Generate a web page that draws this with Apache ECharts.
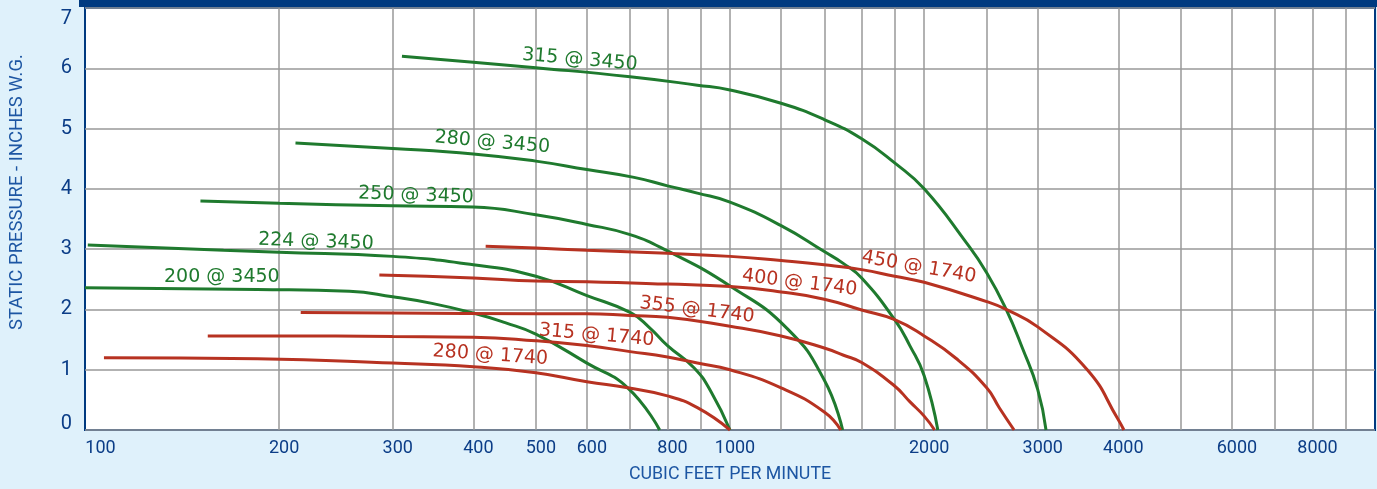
<!DOCTYPE html>
<html>
<head>
<meta charset="utf-8">
<script src="https://cdn.jsdelivr.net/npm/echarts@6.0.0/dist/echarts.min.js"></script>
<style>
html,body{margin:0;padding:0;background:#dff1fb;}
#chart{width:1377px;height:489px;}
</style>
</head>
<body>
<div id="chart"></div>
<script>
// ---- data (CFM, static pressure in. W.G.) ----
const fan315_3450 = [[310,6.2],[400,6.1],[500,6.01],[700,5.86],[890,5.72],[1000,5.64],[1200,5.42],[1400,5.15],[1600,4.83],[1800,4.43],[2000,4.0],[2320,3.12],[2500,2.61],[2680,2.0],[2840,1.36],[3000,0.67],[3090,0]];
const fan280_3450 = [[212,4.76],[300,4.67],[400,4.58],[500,4.46],[600,4.32],[710,4.19],[800,4.05],[890,3.93],[1000,3.78],[1200,3.39],[1400,2.96],[1500,2.76],[1600,2.52],[1800,1.83],[1900,1.40],[2000,0.90],[2100,0]];
const fan250_3450 = [[151,3.80],[200,3.76],[300,3.72],[400,3.70],[500,3.57],[600,3.41],[700,3.24],[800,2.97],[1000,2.39],[1230,1.67],[1400,0.83],[1495,0]];
const fan224_3450 = [[101,3.07],[164,2.98],[200,2.95],[300,2.88],[400,2.74],[500,2.55],[600,2.23],[700,1.95],[750,1.70],[800,1.40],[880,1.03],[935,0.63],[1000,0]];
const fan200_3450 = [[100,2.36],[185,2.33],[257,2.30],[300,2.21],[345,2.10],[400,1.94],[448,1.78],[500,1.59],[600,1.11],[694,0.70],[778,0]];
const fan450_1740 = [[418,3.05],[500,3.02],[600,2.98],[800,2.93],[1000,2.88],[1200,2.81],[1400,2.74],[1600,2.66],[1800,2.55],[2000,2.45],[2500,2.13],[2680,2.0],[3000,1.71],[3580,1.0],[4000,0.17],[4080,0]];
const fan400_1740 = [[286,2.57],[400,2.52],[500,2.47],[600,2.46],[800,2.42],[1000,2.38],[1200,2.29],[1400,2.17],[1600,1.99],[1800,1.83],[2000,1.56],[2240,1.19],[2500,0.70],[2615,0.37],[2757,0]];
const fan355_1740 = [[216,1.95],[300,1.94],[500,1.93],[600,1.93],[700,1.90],[800,1.87],[1000,1.72],[1200,1.56],[1400,1.36],[1500,1.24],[1600,1.12],[1800,0.73],[1900,0.47],[2000,0.23],[2076,0]];
const fan315_1740 = [[155,1.56],[200,1.56],[300,1.55],[400,1.54],[500,1.48],[600,1.40],[700,1.30],[800,1.21],[890,1.11],[1000,1.0],[1200,0.70],[1400,0.30],[1485,0]];
const fan280_1740 = [[107,1.20],[185,1.18],[300,1.11],[400,1.05],[500,0.95],[600,0.80],[694,0.70],[797,0.57],[890,0.37],[1000,0]];

const curveNames = ['315 @ 3450','280 @ 3450','250 @ 3450','224 @ 3450','200 @ 3450','450 @ 1740','400 @ 1740','355 @ 1740','315 @ 1740','280 @ 1740'];
const curveData = [fan315_3450,fan280_3450,fan250_3450,fan224_3450,fan200_3450,fan450_1740,fan400_1740,fan355_1740,fan315_1740,fan280_1740];
// where each curve's name label sits (CFM, in. W.G.)
const labelAnchors = [[585,6.14],[428,4.77],[326,3.89],[228,3.12],[163,2.54],[1963,2.70],[1282,2.44],[889,1.99],[621,1.57],[425,1.24]];

const xGridValues = [200,300,400,500,600,700,800,900,1000,1200,1400,1600,1800,2000,2500,3000,4000,5000,6000,7000,8000,9000];
const xTickLabels = [100,200,300,400,500,600,800,1000,2000,3000,4000,6000,8000];
const yTickLabels = [0,1,2,3,4,5,6,7];

// ---- styles ----
const GREEN = '#1f7a2e', RED = '#b73221', NAVY = '#0b3d87', TITLE = '#1d56a3';
const labelRotate = [-5,-5,-2,-2,0,-10,-7,-7,-5,-4];
const FONT = 'Roboto, "DejaVu Sans", sans-serif';
const LFONT = '"DejaVu Sans", Roboto, sans-serif';

const chart = echarts.init(document.getElementById('chart'));

const series = curveData.map((d, i) => {
  const color = curveNames[i].indexOf('3450') >= 0 ? GREEN : RED;
  return {
    name: curveNames[i],
    type: 'line',
    data: d,
    showSymbol: false,
    smooth: 0.5,
    clip: false,
    lineStyle: {color: color, width: 3},
    itemStyle: {color: color},
    z: 3,
    markPoint: {
      silent: true,
      symbol: 'rect',
      symbolSize: 1,
      itemStyle: {color: 'transparent'},
      label: {
        show: true,
        position: 'inside',
        color: color,
        fontFamily: LFONT,
        fontSize: 19,
        rotate: labelRotate[i],
        formatter: p => p.name
      },
      data: [{name: curveNames[i], coord: labelAnchors[i]}]
    }
  };
});

chart.setOption({
  animation: false,
  backgroundColor: '#dff1fb',
  grid: {
    left: 80, right: 2, top: 8, bottom: 57,
    show: true, backgroundColor: '#ffffff',
    borderColor: '#003a80', borderWidth: 2
  },
  graphic: [{
    type: 'rect', left: 79, top: 0, z: 10,
    shape: {width: 1298, height: 7},
    style: {fill: '#003a80'}
  }],
  xAxis: {
    type: 'log', logBase: 10, min: 100, max: 10000,
    name: 'CUBIC FEET PER MINUTE',
    nameLocation: 'middle', nameGap: 36,
    nameTextStyle: {color: TITLE, fontFamily: FONT, fontSize: 17.8},
    axisLine: {show: false},
    axisTick: {show: false, customValues: xGridValues},
    splitLine: {show: true, lineStyle: {color: '#999999', width: 1.5}},
    minorSplitLine: {show: false},
    axisLabel: {
      customValues: xTickLabels,
      color: NAVY, fontFamily: FONT, fontSize: 18, margin: 9,
      formatter: v => {
        const s = String(Math.round(v));
        return Math.round(v) === 100 ? '{a|' + s + '}' : '{b|' + s + '}';
      },
      rich: {
        a: {color: NAVY, fontFamily: FONT, fontSize: 18, padding: [0,0,0,31]},
        b: {color: NAVY, fontFamily: FONT, fontSize: 18, padding: [0,0,0,10]}
      }
    }
  },
  yAxis: {
    type: 'value', min: 0, max: 7, interval: 1,
    name: 'STATIC PRESSURE - INCHES W.G.',
    nameLocation: 'middle', nameGap: 58,
    nameTextStyle: {color: TITLE, fontFamily: FONT, fontSize: 18.5, padding: [0,0,0,54]},
    axisLine: {show: false},
    axisTick: {show: false},
    splitLine: {show: true, lineStyle: {color: '#999999', width: 1.5}},
    axisLabel: {
      color: NAVY, fontFamily: FONT, fontSize: 20, margin: 13,
      formatter: v => {
        if (v === yTickLabels[0]) return '{lo|' + v + '}';
        if (v === yTickLabels[yTickLabels.length - 1]) return '{hi|' + v + '}';
        return '{m|' + v + '}';
      },
      rich: {
        lo: {color: NAVY, fontFamily: FONT, fontSize: 20, padding: [0,0,12,0]},
        hi: {color: NAVY, fontFamily: FONT, fontSize: 20, padding: [22,0,0,0]},
        m: {color: NAVY, fontFamily: FONT, fontSize: 20}
      }
    }
  },
  series: series
});
</script>
</body>
</html>
